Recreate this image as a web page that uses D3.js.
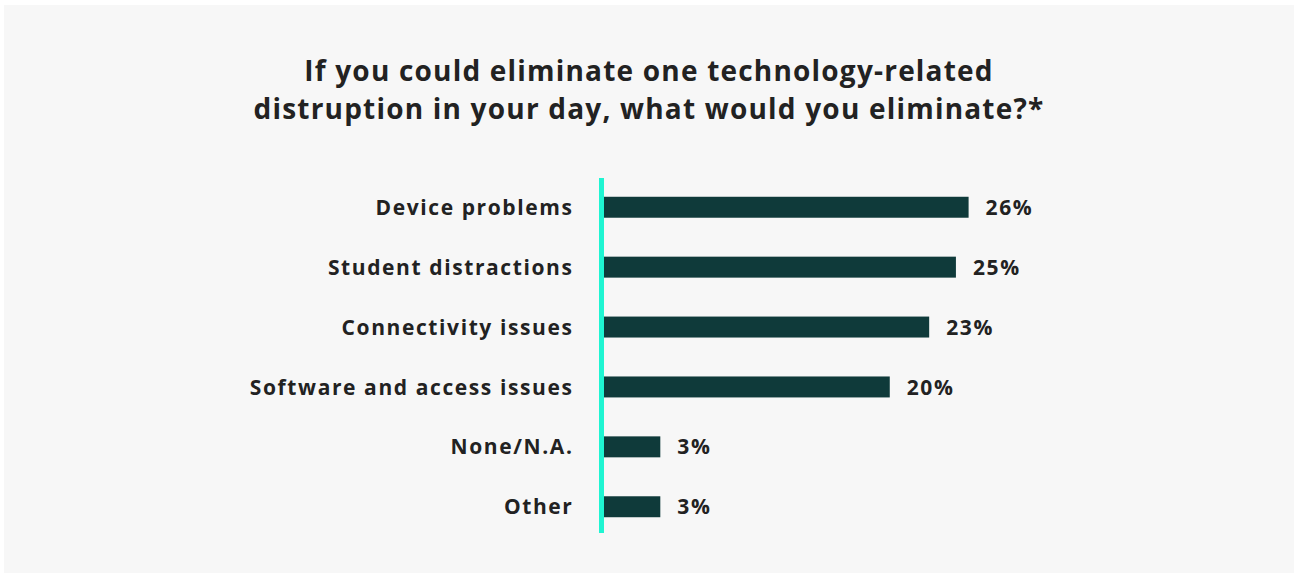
<!DOCTYPE html>
<html>
<head>
<meta charset="utf-8">
<script src="https://cdn.jsdelivr.net/npm/d3@7"></script>
<style>
  body { margin: 0; background: #ffffff; }
  svg { display: block; }
  text { font-family: "Open Sans", Lato, sans-serif; fill: #222222; }
</style>
</head>
<body>
<div id="chart"></div>
<script>
const categories = ['Device problems', 'Student distractions', 'Connectivity issues',
  'Software and access issues', 'None/N.A.', 'Other'];
// bar lengths
const values = [25.9, 25.0, 23.1, 20.3, 4.0, 4.0];
const valueLabels = ['26%', '25%', '23%', '20%', '3%', '3%'];
const titleLines = ['If you could eliminate one technology-related',
  'distruption in your day, what would you eliminate?*'];

const width = 1294;
const height = 577;

const svg = d3.select('#chart')
  .append('svg')
  .attr('width', width)
  .attr('height', height);

// panel
svg.append('rect')
  .attr('x', 4)
  .attr('y', 5)
  .attr('width', width - 4)
  .attr('height', height - 9)
  .attr('fill', '#f7f7f7');

svg.append('g')
  .selectAll('text')
  .data(titleLines)
  .enter()
  .append('text')
  .attr('x', 649)
  .attr('y', (d, i) => 81 + i * 38)
  .attr('text-anchor', 'middle')
  .style('font-size', '28px')
  .style('font-weight', 700)
  .style('letter-spacing', '1.2px')
  .text(d => d);

const x0 = 604;
const xScale = d3.scaleLinear()
  .domain([0, 26])
  .range([x0, x0 + 366]);

const yScale = d3.scaleBand()
  .domain(categories)
  .range([177, 537])
  .paddingInner(0.65)
  .paddingOuter(0.33);

const g = svg.append('g');

g.selectAll('.bar')
  .data(values)
  .enter()
  .append('rect')
  .attr('class', 'bar')
  .attr('x', xScale(0))
  .attr('y', (d, i) => yScale(categories[i]))
  .attr('width', d => xScale(d) - xScale(0))
  .attr('height', yScale.bandwidth())
  .attr('fill', '#0f3a3a');

g.selectAll('.cat')
  .data(categories)
  .enter()
  .append('text')
  .attr('class', 'cat')
  .attr('x', 573.5)
  .attr('y', d => yScale(d) + yScale.bandwidth() / 2)
  .attr('dy', '0.36em')
  .attr('text-anchor', 'end')
  .style('font-size', '21px')
  .style('font-weight', 700)
  .style('letter-spacing', '1.6px')
  .text(d => d);

g.selectAll('.val')
  .data(values)
  .enter()
  .append('text')
  .attr('class', 'val')
  .attr('x', d => xScale(d) + 17)
  .attr('y', (d, i) => yScale(categories[i]) + yScale.bandwidth() / 2)
  .attr('dy', '0.36em')
  .style('font-size', '21px')
  .style('font-weight', 700)
  .style('letter-spacing', '1.6px')
  .text((d, i) => valueLabels[i]);

// axis line
g.append('line')
  .attr('x1', 601.5)
  .attr('x2', 601.5)
  .attr('y1', 178)
  .attr('y2', 533)
  .attr('stroke', '#1ff5d2')
  .attr('stroke-width', 5);
</script>
</body>
</html>
